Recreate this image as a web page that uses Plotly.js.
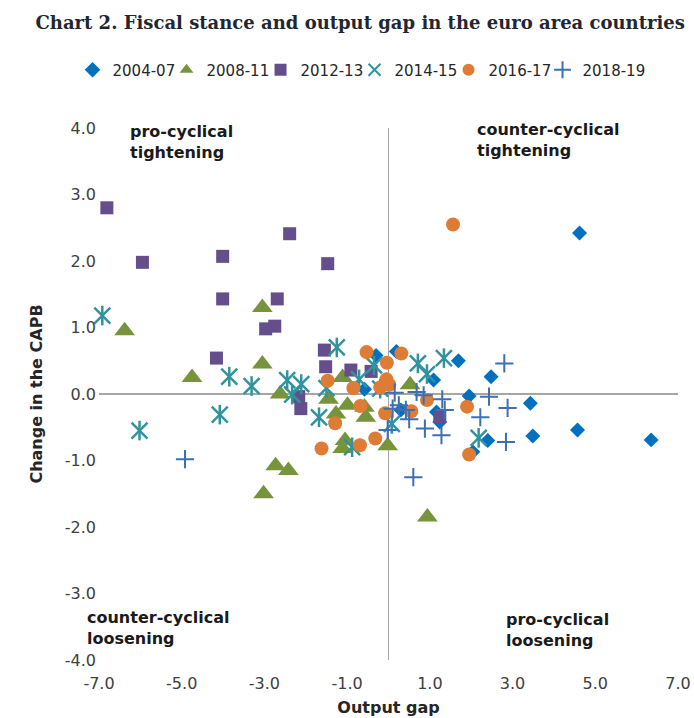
<!DOCTYPE html>
<html>
<head>
<meta charset="utf-8">
<script src="https://cdn.plot.ly/plotly-3.0.1.min.js"></script>
<style>html,body{margin:0;padding:0;background:#fff;}#chart{width:694px;height:718px;}</style>
</head>
<body>
<div id="chart"></div>
<script>
// Output gap (x) and change in CAPB (y) per period
const gap0407 = [4.62, 1.69, 2.48, 1.09, 1.95, 3.43, 3.49, 4.57, 6.35, 2.40, 0.19, 1.16, 1.24, 0.30, 2.04, -0.58, -0.30];
const capb0407 = [2.42, 0.50, 0.26, 0.21, -0.03, -0.14, -0.63, -0.54, -0.69, -0.70, 0.64, -0.27, -0.42, -0.24, -0.87, 0.07, 0.58];

const gap0811 = [-6.38, -4.75, -3.05, -3.05, -2.62, -2.73, -2.42, -3.02, -1.45, -1.27, -1.11, -0.99, -0.58, -0.55, -1.11, -1.05, -0.02, 0.52, 0.94];
const capb0811 = [0.95, 0.25, 1.30, 0.45, 0.00, -1.08, -1.15, -1.50, -0.08, -0.30, 0.25, -0.17, -0.20, -0.35, -0.82, -0.70, -0.78, 0.14, -1.85];

const gap1213 = [-6.81, -5.95, -4.01, -2.39, -1.47, -4.01, -2.69, -2.97, -2.75, -4.16, -1.55, -1.52, -0.91, -0.42, -2.17, -2.12, 1.24];
const capb1213 = [2.80, 1.98, 2.07, 2.41, 1.96, 1.43, 1.43, 0.98, 1.02, 0.54, 0.66, 0.41, 0.36, 0.34, -0.04, -0.22, -0.34];

const gap1415 = [-6.92, -6.02, -4.08, -3.85, -3.31, -2.45, -2.33, -2.11, -1.68, -1.25, -1.50, -0.71, -0.35, -0.88, 0.08, 0.71, 0.93, 1.34, 2.18, -0.20];
const capb1415 = [1.18, -0.55, -0.31, 0.26, 0.12, 0.21, -0.01, 0.15, -0.35, 0.70, 0.09, 0.22, 0.43, -0.80, -0.45, 0.46, 0.30, 0.54, -0.66, 0.08];

const gap1617 = [1.56, -0.53, 0.31, -0.04, -1.47, -0.85, -0.20, -0.05, 0.02, -0.68, -0.08, 0.55, 0.93, -1.29, -1.62, -0.69, -0.32, 1.90, 1.95];
const capb1617 = [2.55, 0.63, 0.61, 0.47, 0.20, 0.09, 0.10, 0.22, 0.14, -0.18, -0.29, -0.26, -0.09, -0.44, -0.82, -0.77, -0.67, -0.19, -0.91];

const gap1819 = [-4.92, 0.60, 2.80, 2.43, 2.88, 2.22, 2.84, 1.30, 1.36, 1.28, 0.88, 0.50, -0.02, 0.15, 0.68, 0.25, 0.42, 0.10, 0.85];
const capb1819 = [-0.98, -1.25, 0.46, -0.04, -0.21, -0.35, -0.72, -0.08, -0.24, -0.62, -0.52, -0.38, -0.54, 0.02, 0.03, -0.17, -0.24, -0.22, -0.02];

const periods = ['2004-07', '2008-11', '2012-13', '2014-15', '2016-17', '2018-19'];
const xTicks = [-7, -5, -3, -1, 1, 3, 5, 7];
const xTickLabels = ['-7.0', '-5.0', '-3.0', '-1.0', '1.0', '3.0', '5.0', '7.0'];
const yTicks = [-4, -3, -2, -1, 0, 1, 2, 3, 4];
const yTickLabels = ['-4.0', '-3.0', '-2.0', '-1.0', '0.0', '1.0', '2.0', '3.0', '4.0'];

const C = {dia:'#0070C0', tri:'#77933C', sq:'#654E8C', ast:'#31939F', cir:'#DE7C35', plus:'#3E6FB0'};

const traces = [
  {x: gap0407, y: capb0407, name: periods[0], type:'scatter', mode:'markers', cliponaxis:false,
   marker:{symbol:'diamond', size:11.5, color:C.dia}},
  {x: gap0811, y: capb0811, name: periods[1], type:'scatter', mode:'markers', cliponaxis:false,
   marker:{symbol:'triangle-up', size:18, color:C.tri}},
  {x: gap1213, y: capb1213, name: periods[2], type:'scatter', mode:'markers', cliponaxis:false,
   marker:{symbol:'square', size:13, color:C.sq}},
  {x: gap1415, y: capb1415, name: periods[3], type:'scatter', mode:'markers', cliponaxis:false, legendgroup:'a',
   marker:{symbol:'x-thin-open', size:16, color:C.ast, line:{color:C.ast, width:2.5}}},
  {x: gap1415, y: capb1415, name: periods[3], type:'scatter', mode:'markers', cliponaxis:false, legendgroup:'a', showlegend:false,
   marker:{symbol:'line-ns-open', size:14, color:C.ast, line:{color:C.ast, width:2.5}}},
  {x: gap1617, y: capb1617, name: periods[4], type:'scatter', mode:'markers', cliponaxis:false,
   marker:{symbol:'circle', size:14, color:C.cir}},
  {x: gap1819, y: capb1819, name: periods[5], type:'scatter', mode:'markers', cliponaxis:false, legendwidth: 66,
   marker:{symbol:'cross-thin-open', size:13, color:C.plus, line:{color:C.plus, width:2}}}
];

const F = 'DejaVu Sans, Arial, sans-serif';
const layout = {
  width: 694, height: 718,
  margin: {l: 99, r: 16, t: 128, b: 58},
  paper_bgcolor: '#fff', plot_bgcolor: '#fff',
  font: {family: F, size: 16, color: '#404040'},
  title: {text: 'Chart 2. Fiscal stance and output gap in the euro area countries',
          font: {family: 'DejaVu Serif, Liberation Serif, serif', size: 18, weight: 'bold', color: '#1F2733'},
          x: 0.519, xref: 'container', xanchor: 'center', y: 0.969, yref: 'container', yanchor: 'middle'},
  showlegend: true,
  legend: {orientation: 'h', x: 0.456, xanchor: 'center', y: 1.109, yanchor: 'middle',
           font: {family: F, size: 15, color: '#262626'}, itemsizing: 'constant', itemwidth: 30,
           entrywidth: 49, entrywidthmode: 'pixels',
           traceorder: 'normal', bgcolor: 'rgba(0,0,0,0)'},
  xaxis: {range: [-7, 7], tickvals: xTicks, ticktext: xTickLabels, showgrid: false, showline: false,
          zeroline: true, zerolinecolor: '#A6A6A6', zerolinewidth: 1.5, ticks: '', ticklabelstandoff: 12,
          tickfont: {family: F, size: 16, color: '#404040'},
          title: {text: 'Output gap', font: {family: F, size: 16, weight: 'bold', color: '#262626'}, standoff: 9}},
  yaxis: {range: [-4, 4], tickvals: yTicks, ticktext: yTickLabels, showgrid: false, showline: false,
          zeroline: true, zerolinecolor: '#A6A6A6', zerolinewidth: 1.5, ticks: '', ticklabelstandoff: 2,
          tickfont: {family: F, size: 16, color: '#404040'},
          title: {text: 'Change in the CAPB', font: {family: F, size: 16, weight: 'bold', color: '#262626'}, standoff: 18}},
  annotations: [
    {text: 'pro-cyclical<br>tightening', xref: 'paper', yref: 'paper', x: 0.050, y: 1.015, xanchor: 'left', yanchor: 'top', align: 'left', showarrow: false,
     font: {family: F, size: 16, weight: 'bold', color: '#1A1A1A'}},
    {text: 'counter-cyclical<br>tightening', xref: 'paper', yref: 'paper', x: 0.650, y: 1.019, xanchor: 'left', yanchor: 'top', align: 'left', showarrow: false,
     font: {family: F, size: 16, weight: 'bold', color: '#1A1A1A'}},
    {text: 'counter-cyclical<br>loosening', xref: 'paper', yref: 'paper', x: -0.024, y: 0.102, xanchor: 'left', yanchor: 'top', align: 'left', showarrow: false,
     font: {family: F, size: 16, weight: 'bold', color: '#1A1A1A'}},
    {text: 'pro-cyclical<br>loosening', xref: 'paper', yref: 'paper', x: 0.699, y: 0.098, xanchor: 'left', yanchor: 'top', align: 'left', showarrow: false,
     font: {family: F, size: 16, weight: 'bold', color: '#1A1A1A'}}
  ]
};

Plotly.newPlot('chart', traces, layout, {displayModeBar: false, staticPlot: true});
</script>
</body>
</html>
